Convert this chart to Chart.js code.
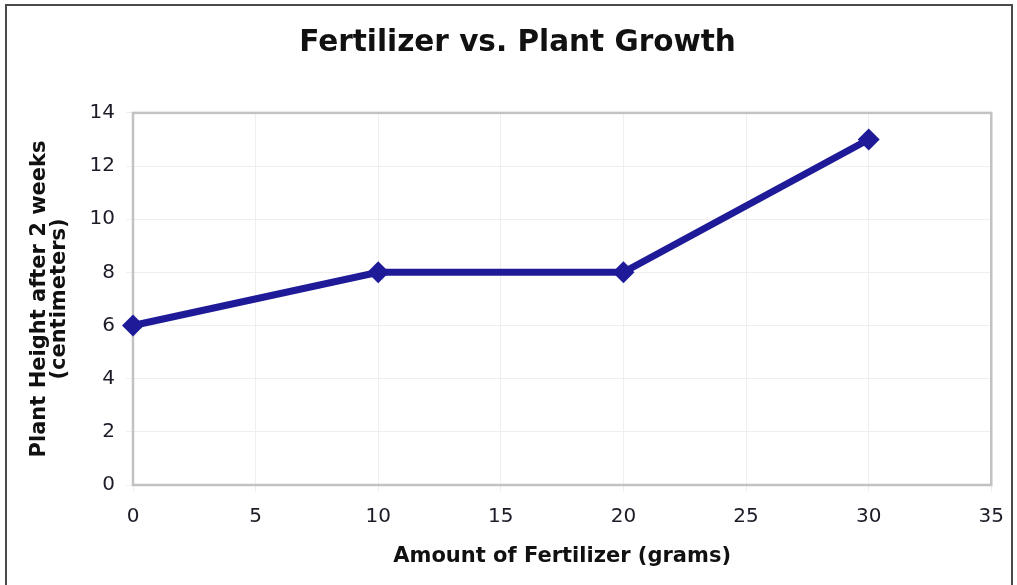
<!DOCTYPE html>
<html>
<head>
<meta charset="utf-8">
<script src="https://cdn.jsdelivr.net/npm/chart.js@4"></script>
<style>
  html, body { margin: 0; padding: 0; background: #fff; }
  #wrap { width: 1017px; height: 585px; }
</style>
</head>
<body>
<div id="wrap"><canvas id="growthChart"></canvas></div>
<script>
// ----- DATA -----
const fertilizerGrams = [0, 10, 20, 30];
const plantHeights = [6, 8, 8, 13];
const xTicks = [0, 5, 10, 15, 20, 25, 30, 35];
const yTicks = [0, 2, 4, 6, 8, 10, 12, 14];

const lineColor = '#1f1b98';
const tickColor = '#1c1c28';
const FONT = "'DejaVu Sans', Verdana, sans-serif";

// frame round the whole chart + grey box round the plot area
const framePlugin = {
    id: 'frame',
    beforeDraw(chart) {
        const c = chart.ctx;
        c.save();
        c.fillStyle = '#fff';
        c.fillRect(0, 0, chart.width, chart.height);
        c.strokeStyle = '#4a4a4a';
        c.lineWidth = 2;
        c.strokeRect(6, 5, 1006, 620);
        c.restore();
    },
    beforeDatasetsDraw(chart) {
        const a = chart.chartArea;
        const c = chart.ctx;
        c.save();
        c.strokeStyle = '#c2c2c2';
        c.lineWidth = 2.5;
        c.strokeRect(a.left, a.top, a.right - a.left, a.bottom - a.top);
        c.restore();
    }
};

const points = fertilizerGrams.map((g, i) => ({ x: g, y: plantHeights[i] }));

new Chart(document.getElementById('growthChart').getContext('2d'), {
    type: 'line',
    data: {
        datasets: [{
            label: 'Plant Height',
            data: points,
            borderColor: lineColor,
            backgroundColor: lineColor,
            borderWidth: 7,
            tension: 0,
            fill: false,
            clip: false,
            pointStyle: 'rectRot',
            pointRadius: 11,
            pointBorderWidth: 0,
            pointBackgroundColor: lineColor
        }]
    },
    options: {
        responsive: true,
        maintainAspectRatio: false,
        animation: false,
        // left padding offsets the title so it sits where the original does
        layout: { padding: { top: 0, left: 41, right: 23, bottom: 0 } },
        plugins: {
            legend: { display: false },
            tooltip: { enabled: false },
            title: {
                display: true,
                text: 'Fertilizer vs. Plant Growth',
                color: '#111',
                font: { family: FONT, size: 29.5, weight: 'bold', lineHeight: 1.2 },
                padding: { top: 26, bottom: 51.5 }
            }
        },
        scales: {
            x: {
                type: 'linear',
                min: 0,
                max: 35,
                afterBuildTicks: s => { s.ticks = xTicks.map(v => ({ value: v })); },
                afterFit: s => { s.height = 100; },
                grid: { color: '#efefef', lineWidth: 1, tickLength: 7 },
                border: { display: false },
                ticks: { color: tickColor, font: { family: FONT, size: 20 }, padding: 13 },
                title: {
                    display: true,
                    text: 'Amount of Fertilizer (grams)',
                    color: '#111',
                    font: { family: FONT, size: 21, weight: 'bold', lineHeight: 1.1 },
                    padding: { top: 0, bottom: 16.5 }
                }
            },
            y: {
                min: 0,
                max: 14,
                afterBuildTicks: s => { s.ticks = yTicks.map(v => ({ value: v })); },
                afterFit: s => { s.width = 92; },
                grid: { color: '#efefef', lineWidth: 1, tickLength: 7 },
                border: { display: false },
                ticks: { color: tickColor, font: { family: FONT, size: 20 }, padding: 11 },
                title: {
                    display: true,
                    text: ['Plant Height after 2 weeks', '(centimeters)'],
                    color: '#111',
                    font: { family: FONT, size: 21, weight: 'bold', lineHeight: 0.92 },
                    padding: { top: -10.8, bottom: 0 }
                }
            }
        }
    },
    plugins: [framePlugin]
});
</script>
</body>
</html>
